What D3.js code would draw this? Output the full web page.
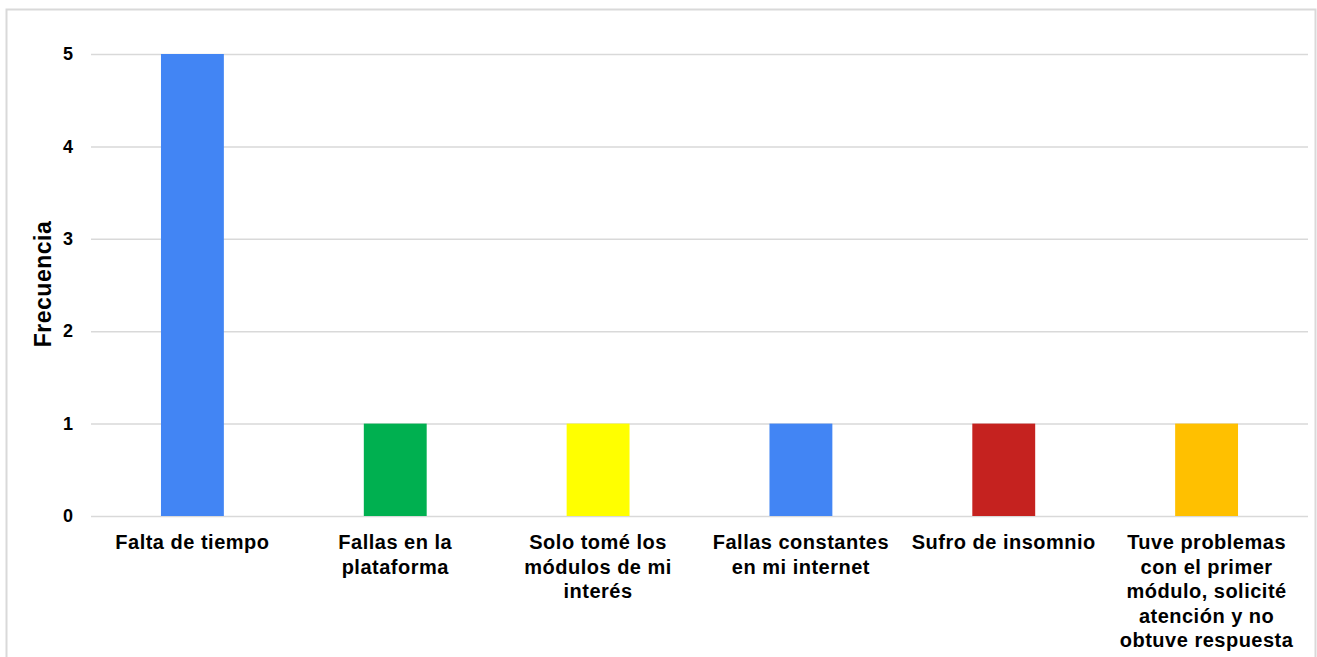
<!DOCTYPE html>
<html><head><meta charset="utf-8">
<script src="https://cdn.jsdelivr.net/npm/d3@7"></script>
<style>
html,body{margin:0;padding:0;background:#fff;}
svg{display:block;}
text{font-family:"Liberation Sans",Arial,sans-serif;font-weight:bold;fill:#000;}
</style></head>
<body>
<script>
const categories = [
  "Falta de tiempo",
  "Fallas en la plataforma",
  "Solo tomé los módulos de mi interés",
  "Fallas constantes en mi internet",
  "Sufro de insomnio",
  "Tuve problemas con el primer módulo, solicité atención y no obtuve respuesta"
];
const values = [5, 1, 1, 1, 1, 1];
const barColors = ["#4285F4", "#00B050", "#FFFF00", "#4285F4", "#C5221F", "#FFC000"];
const yTicks = [0, 1, 2, 3, 4, 5];
const yTitle = "Frecuencia";

(function () {
const W = 1317, H = 657;
const svg = d3.select("body").append("svg").attr("width", W).attr("height", H);

// frame
svg.append("rect").attr("x", 6.5).attr("y", 9.5).attr("width", 1309).attr("height", 700)
  .attr("fill", "none").attr("stroke", "#d9d9d9").attr("stroke-width", 2);

const mLeft = 91, mRight = 1308, mTop = 54, mBottom = 516;
const x = d3.scaleBand().domain(categories).range([mLeft, mRight]).paddingInner(0.69).paddingOuter(0.345);
const y = d3.scaleLinear().domain([0, 5]).range([mBottom, mTop]);

// gridlines
const yAxis = d3.axisLeft(y).tickValues(yTicks).tickSize(-(mRight - mLeft)).tickPadding(18).tickFormat(d3.format("d"));
const gy = svg.append("g").attr("transform", `translate(${mLeft},0)`).call(yAxis);
gy.select(".domain").remove();
gy.selectAll(".tick line").attr("stroke", "#d9d9d9").attr("stroke-width", 1.5);
gy.selectAll(".tick text").style("font-size", "18px").attr("fill", "#000").style("font-family", '"Liberation Sans",Arial,sans-serif').style("font-weight", "bold");

// bars
svg.append("g").selectAll("rect").data(categories).join("rect")
  .attr("x", d => x(d)).attr("width", x.bandwidth())
  .attr("y", (d, i) => y(values[i])).attr("height", (d, i) => y(0) - y(values[i]))
  .attr("fill", (d, i) => barColors[i]);

// x labels with wrapping
const maxW = 200;
const lh = 24.5;
const measure = svg.append("text").style("font-size", "20px").style("letter-spacing", "0.5px");
function wrap(str) {
  const words = str.split(" ");
  const lines = []; let cur = "";
  words.forEach(w => {
    const t = cur ? cur + " " + w : w;
    measure.text(t);
    if (measure.node().getComputedTextLength() > maxW && cur) { lines.push(cur); cur = w; }
    else cur = t;
  });
  if (cur) lines.push(cur);
  return lines;
}
const lbl = svg.append("g");
categories.forEach(c => {
  const lines = wrap(c);
  const t = lbl.append("text").attr("text-anchor", "middle").style("font-size", "20px").style("letter-spacing", "0.5px");
  lines.forEach((ln, i) => {
    t.append("tspan").attr("x", x(c) + x.bandwidth() / 2).attr("y", 549 + i * lh).text(ln);
  });
});
measure.remove();

// y title
svg.append("text").attr("transform", "translate(51,284) rotate(-90)").attr("text-anchor", "middle")
  .style("font-size", "23px").style("letter-spacing", "0.5px").text(yTitle);
})();
</script>
</body></html>
